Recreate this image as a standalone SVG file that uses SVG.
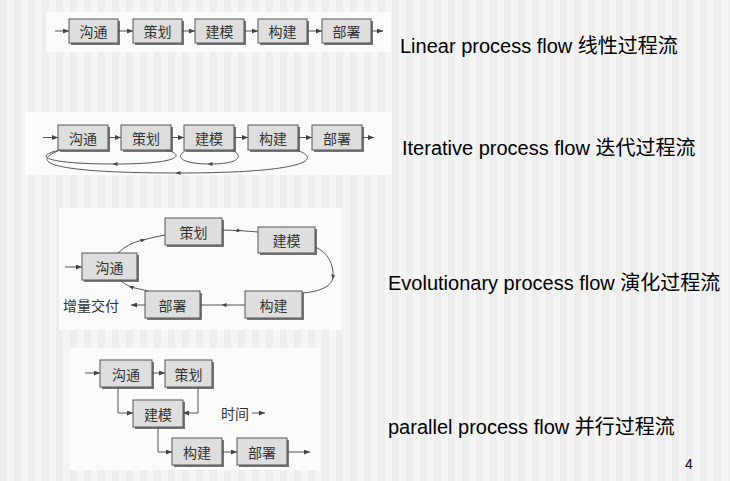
<svg xmlns="http://www.w3.org/2000/svg" width="730" height="481" viewBox="0 0 730 481">
<defs>
<pattern id="stripes" x="0" y="0" width="14" height="20" patternUnits="userSpaceOnUse">
<rect x="0" y="0" width="7" height="20" fill="#eeeeee"/>
<rect x="7" y="0" width="7" height="20" fill="#f5f5f5"/>
</pattern>
<marker id="ah" markerWidth="6" markerHeight="5" refX="6" refY="2.5" orient="auto" markerUnits="userSpaceOnUse">
<path d="M0,0 L6,2.5 L0,5 z" fill="#444"/>
</marker>
<marker id="am" markerWidth="5" markerHeight="4" refX="2.5" refY="2" orient="auto" markerUnits="userSpaceOnUse">
<path d="M0,0 L5,2 L0,4 z" fill="#444"/>
</marker>
</defs>
<style>
.panel{fill:#fbfbfb}
.sh{fill:#777}
.bx{fill:#dedede;stroke:#555;stroke-width:1}
.bt{font-family:"Noto Sans CJK SC","Liberation Sans",sans-serif;font-size:14px;fill:#333;text-anchor:middle;dominant-baseline:central}
.lbl{font-family:"Noto Sans CJK SC","Liberation Sans",sans-serif;font-size:14px;fill:#333;dominant-baseline:central}
.ln{fill:none;stroke:#555;stroke-width:1}
.arr{marker-end:url(#ah)}
.mid{marker-mid:url(#am)}
.cap{font-family:"Liberation Sans","Noto Sans CJK SC",sans-serif;font-size:20px;fill:#000}
</style>
<rect width="730" height="481" fill="url(#stripes)"/>

<!-- Panel backgrounds -->
<rect class="panel" x="46" y="12" width="345" height="40"/>
<rect class="panel" x="25" y="112" width="367" height="63"/>
<rect class="panel" x="59" y="208" width="283" height="122"/>
<rect class="panel" x="70" y="348" width="250" height="122"/>

<!-- Panel 1: Linear -->
<g id="l1"><rect class="sh" x="71" y="21" width="49" height="24"/><rect class="bx" x="69" y="19" width="49" height="24"/><text class="bt" x="93.5" y="31">沟通</text></g>
<g id="l2"><rect class="sh" x="135" y="21" width="49" height="24"/><rect class="bx" x="133" y="19" width="49" height="24"/><text class="bt" x="157.5" y="31">策划</text></g>
<g id="l3"><rect class="sh" x="197" y="21" width="49" height="24"/><rect class="bx" x="195" y="19" width="49" height="24"/><text class="bt" x="219.5" y="31">建模</text></g>
<g id="l4"><rect class="sh" x="260" y="21" width="49" height="24"/><rect class="bx" x="258" y="19" width="49" height="24"/><text class="bt" x="282.5" y="31">构建</text></g>
<g id="l5"><rect class="sh" x="324" y="21" width="49" height="24"/><rect class="bx" x="322" y="19" width="49" height="24"/><text class="bt" x="346.5" y="31">部署</text></g>

<!-- Panel 2: Iterative -->
<g id="i1"><rect class="sh" x="60" y="127" width="50" height="25"/><rect class="bx" x="58" y="125" width="50" height="25"/><text class="bt" x="83" y="137.5">沟通</text></g>
<g id="i2"><rect class="sh" x="123" y="127" width="50" height="25"/><rect class="bx" x="121" y="125" width="50" height="25"/><text class="bt" x="146" y="137.5">策划</text></g>
<g id="i3"><rect class="sh" x="186" y="127" width="50" height="25"/><rect class="bx" x="184" y="125" width="50" height="25"/><text class="bt" x="209" y="137.5">建模</text></g>
<g id="i4"><rect class="sh" x="250" y="127" width="50" height="25"/><rect class="bx" x="248" y="125" width="50" height="25"/><text class="bt" x="273" y="137.5">构建</text></g>
<g id="i5"><rect class="sh" x="314" y="127" width="50" height="25"/><rect class="bx" x="312" y="125" width="50" height="25"/><text class="bt" x="337" y="137.5">部署</text></g>

<!-- Panel 3: Evolutionary -->
<g id="e1"><rect class="sh" x="84" y="255" width="55" height="27"/><rect class="bx" x="82" y="253" width="55" height="27"/><text class="bt" x="109.5" y="266.5">沟通</text></g>
<g id="e2"><rect class="sh" x="167" y="220" width="57" height="27"/><rect class="bx" x="165" y="218" width="57" height="27"/><text class="bt" x="193.5" y="231.5">策划</text></g>
<g id="e3"><rect class="sh" x="260" y="229" width="57" height="26"/><rect class="bx" x="258" y="227" width="57" height="26"/><text class="bt" x="286.5" y="240">建模</text></g>
<g id="e4"><rect class="sh" x="247" y="293" width="57" height="27"/><rect class="bx" x="245" y="291" width="57" height="27"/><text class="bt" x="273.5" y="304.5">构建</text></g>
<g id="e5"><rect class="sh" x="147" y="293" width="55" height="27"/><rect class="bx" x="145" y="291" width="55" height="27"/><text class="bt" x="172.5" y="304.5">部署</text></g>
<text class="lbl" x="119" y="305" text-anchor="end">增量交付</text>

<!-- Panel 4: Parallel -->
<g id="p1"><rect class="sh" x="102" y="362" width="52" height="27"/><rect class="bx" x="100" y="360" width="52" height="27"/><text class="bt" x="126" y="373.5">沟通</text></g>
<g id="p2"><rect class="sh" x="167" y="362" width="47" height="27"/><rect class="bx" x="165" y="360" width="47" height="27"/><text class="bt" x="188.5" y="373.5">策划</text></g>
<g id="p3"><rect class="sh" x="135" y="402" width="50" height="27"/><rect class="bx" x="133" y="400" width="50" height="27"/><text class="bt" x="158" y="413.5">建模</text></g>
<g id="p4"><rect class="sh" x="174" y="440" width="50" height="27"/><rect class="bx" x="172" y="438" width="50" height="27"/><text class="bt" x="197" y="451.5">构建</text></g>
<g id="p5"><rect class="sh" x="239" y="440" width="50" height="27"/><rect class="bx" x="237" y="438" width="50" height="27"/><text class="bt" x="262" y="451.5">部署</text></g>
<text class="lbl" x="221" y="413">时间</text>

<g id="connectors">
<!-- Panel 1 -->
<path class="ln arr" d="M55 31 L69 31"/>
<path class="ln arr" d="M118 31 L133 31"/>
<path class="ln arr" d="M182 31 L195 31"/>
<path class="ln arr" d="M244 31 L258 31"/>
<path class="ln arr" d="M307 31 L322 31"/>
<path class="ln arr" d="M371 31 L383 31"/>
<!-- Panel 2 -->
<path class="ln arr" d="M43 137.5 L58 137.5"/>
<path class="ln arr" d="M108 137.5 L121 137.5"/>
<path class="ln arr" d="M171 137.5 L184 137.5"/>
<path class="ln arr" d="M234 137.5 L248 137.5"/>
<path class="ln arr" d="M298 137.5 L312 137.5"/>
<path class="ln arr" d="M362 137.5 L374 137.5"/>
<path class="ln mid" d="M166 150 C184 154 184 164 115 164 C45 164 32 156 60 150"/>
<path class="ln mid" d="M232 150 C244 156 240 164 210 164 C180 164 174 156 187 150"/>
<path class="ln mid" d="M296 150 C322 158 312 173 178 173 C50 173 30 162 58 151"/>
<!-- Panel 3 -->
<path class="ln arr" d="M65 267 L82 267"/>
<path class="ln mid" d="M118 253 Q128 243 143 240 Q154 237 165 235"/>
<path class="ln mid" d="M222 230 L239 230.5 L258 232"/>
<path class="ln mid" d="M315 247 C328 252 334 265 333 277 C332 287 318 292 302 293"/>
<path class="ln mid" d="M245 305 L224 305 L200 305"/>
<path class="ln mid" d="M148 291 Q139 289 131 287 Q124 284 120 280"/>
<path class="ln arr" d="M145 305 L131 305"/>
<!-- Panel 4 -->
<path class="ln arr" d="M85 373 L100 373"/>
<path class="ln arr" d="M152 373 L165 373"/>
<path class="ln arr" d="M118 387 L118 413 L133 413"/>
<path class="ln arr" d="M198 387 L198 413 L183 413"/>
<path class="ln arr" d="M158 427 L158 452 L172 452"/>
<path class="ln arr" d="M222 452 L237 452"/>
<path class="ln arr" d="M287 452 L310 452"/>
<path class="ln arr" d="M252 413 L265 413"/>
</g>

<!-- Captions -->
<text class="cap" x="400" y="53">Linear process flow 线性过程流</text>
<text class="cap" x="402" y="155">Iterative process flow 迭代过程流</text>
<text class="cap" x="388" y="290">Evolutionary process flow 演化过程流</text>
<text class="cap" x="388" y="434">parallel process flow 并行过程流</text>
<text x="685" y="469" font-family="Liberation Sans, sans-serif" font-size="14" fill="#000">4</text>
</svg>
